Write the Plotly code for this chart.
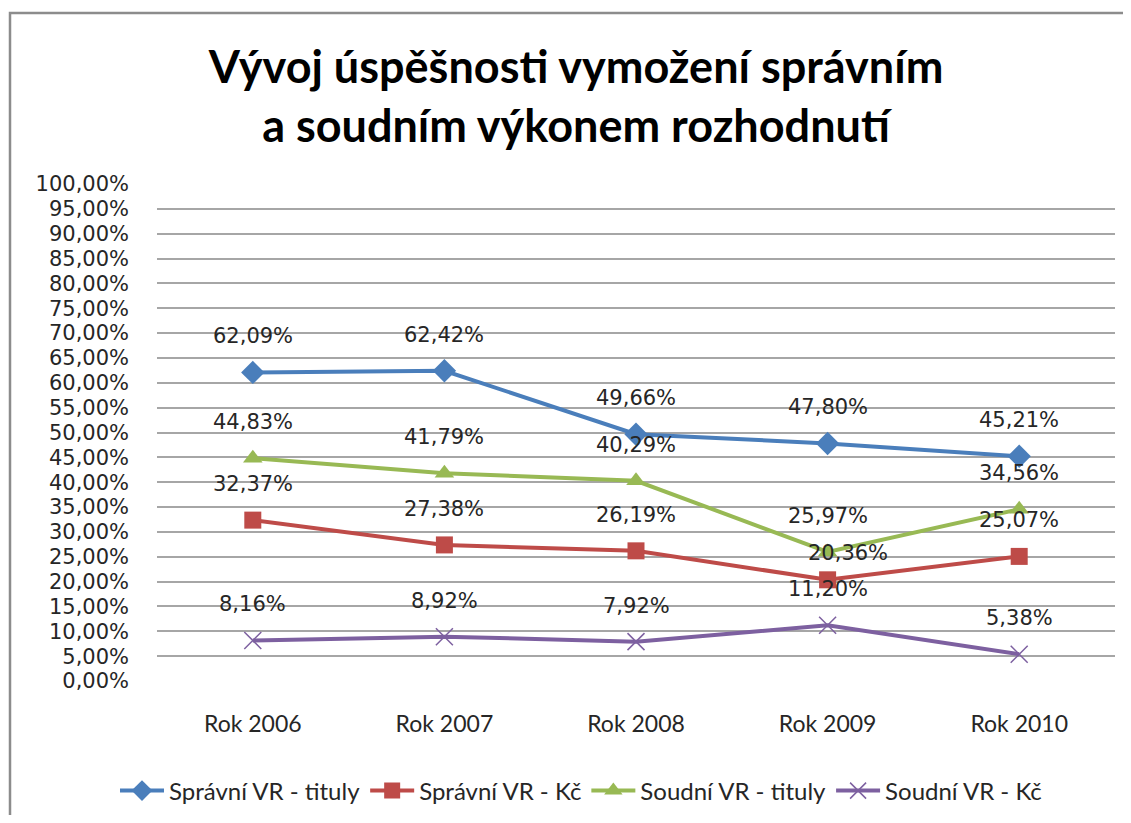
import plotly.graph_objects as go

categories = ["Rok 2006", "Rok 2007", "Rok 2008", "Rok 2009", "Rok 2010"]
spravni_tituly = [62.09, 62.42, 49.66, 47.80, 45.21]
spravni_kc = [32.37, 27.38, 26.19, 20.36, 25.07]
soudni_tituly = [44.83, 41.79, 40.29, 25.97, 34.56]
soudni_kc = [8.16, 8.92, 7.92, 11.20, 5.38]

series_names = ["Správní VR - tituly", "Správní VR - Kč", "Soudní VR - tituly", "Soudní VR - Kč"]
series_values = [spravni_tituly, spravni_kc, soudni_tituly, soudni_kc]
colors = ["#4A7EBB", "#BE4B48", "#98B954", "#7D60A0"]
symbols = ["diamond", "square", "triangle-up", "x-thin"]
msizes = [18, 17, 17, 17]

y_ticks = list(range(0, 101, 5))
y_ticktext = [f"{v:.2f}".replace(".", ",") + "%" for v in y_ticks]

# page body has an 8px margin on every side
OFF = 8
W, H = 1131 - 2 * OFF, 823 - 2 * OFF
PLOT_L, PLOT_R, PLOT_T, PLOT_B = 157, 1115, 184, 681  # target page pixels
L = PLOT_L - OFF
R = W - (PLOT_R - OFF)
T = PLOT_T - OFF
B = H - (PLOT_B - OFF)

fig = go.Figure()
for name, vals, col, sym, ms in zip(series_names, series_values, colors, symbols, msizes):
    fig.add_trace(go.Scatter(
        x=categories, y=vals, name=name, mode="lines+markers",
        line=dict(color=col, width=4),
        marker=dict(symbol=sym, size=ms, color=col,
                    line=dict(color=col, width=1.5 if sym == "x-thin" else 0)),
    ))

annotations = []
for si, vals in enumerate(series_values):
    for ci, v in enumerate(vals):
        xs = 20 if (si == 1 and ci == 3) else 0
        ys = 27 if (si == 1 and ci == 3) else 36
        annotations.append(dict(
            x=categories[ci], y=v, xref="x", yref="y",
            text=f"{v:.2f}".replace(".", ",") + "%",
            showarrow=False, xshift=xs, yshift=ys,
            font=dict(family="DejaVu Sans", size=21, color="#262626"),
        ))

pw = W - L - R
ph = H - T - B


def px_to_paper_x(px):
    return (px - PLOT_L) / pw


def px_to_paper_y(py):
    return (PLOT_B - py) / ph


fig.add_shape(type="rect", xref="paper", yref="paper",
              x0=px_to_paper_x(10), x1=px_to_paper_x(1131 + 40),
              y0=px_to_paper_y(823 + 40), y1=px_to_paper_y(13),
              line=dict(color="#8C8C8C", width=2.5), fillcolor="rgba(0,0,0,0)", layer="below")

fig.update_layout(
    width=W, height=H,
    margin=dict(l=L, r=R, t=T, b=B, autoexpand=False),
    paper_bgcolor="white", plot_bgcolor="white",
    title=dict(
        text="<b>Vývoj úspěšnosti vymožení správním<br>a soudním výkonem rozhodnutí</b>",
        x=(576 - OFF) / W, xanchor="center", y=1 - 75 / H, yanchor="middle",
        font=dict(family="Lato", size=45, color="black"),
    ),
    xaxis=dict(
        type="category", range=[-0.5, 4.5], showgrid=False, zeroline=False,
        showline=False, ticks="", ticklabelstandoff=27,
        tickfont=dict(family="Lato", size=23, color="#262626"),
    ),
    yaxis=dict(
        range=[0, 100], tickvals=y_ticks, ticktext=y_ticktext,
        showgrid=True, gridcolor="#A6A6A6", gridwidth=1.6, zeroline=False,
        showline=False, ticks="", ticklabelstandoff=27,
        tickfont=dict(family="DejaVu Sans", size=21, color="#262626"),
    ),
    showlegend=True,
    legend=dict(
        orientation="h", x=px_to_paper_x(581), xanchor="center",
        y=px_to_paper_y(791), yanchor="middle",
        font=dict(family="Lato", size=24, color="#262626"),
        itemwidth=44, tracegroupgap=0,
    ),
    annotations=annotations,
)

fig.write_html("out.html")
